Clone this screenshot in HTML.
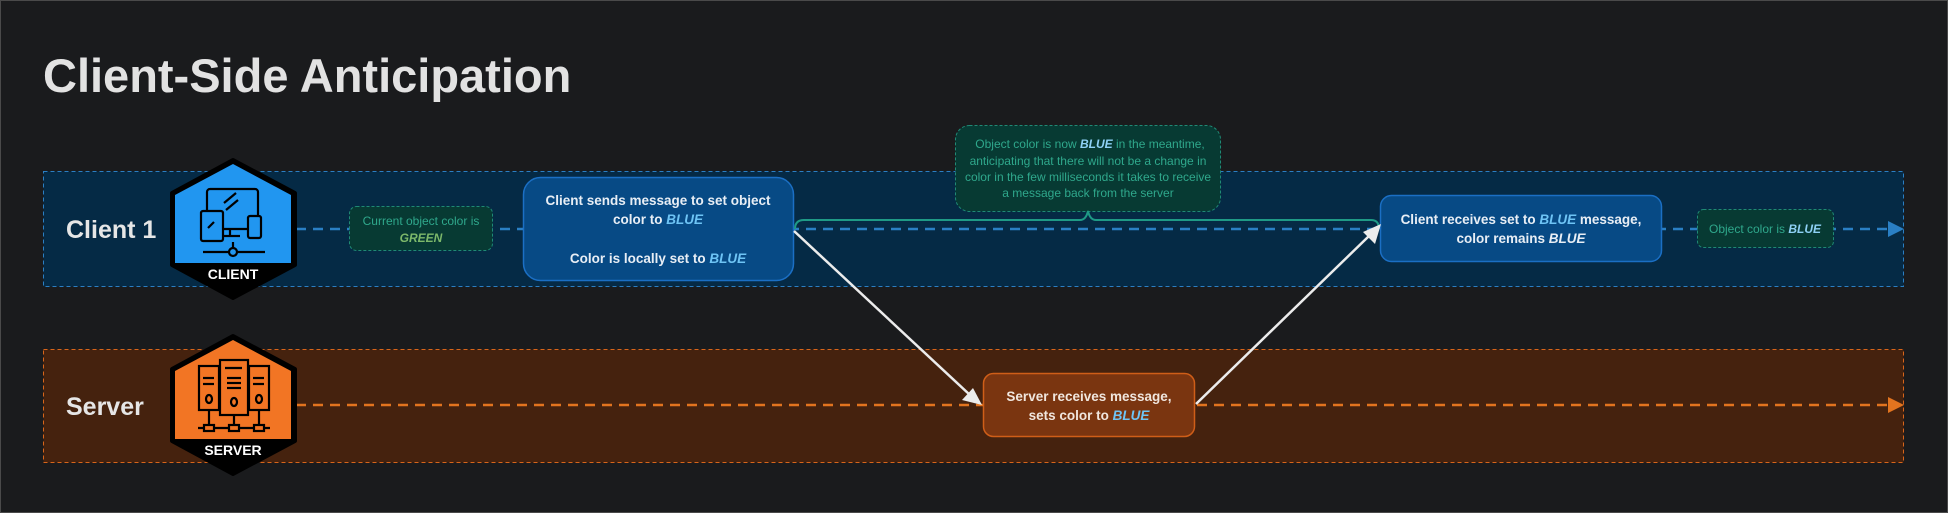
<!DOCTYPE html>
<html><head><meta charset="utf-8"><style>
html,body{margin:0;padding:0;background:#1a1b1d;}
svg{display:block;}
text{font-family:"Liberation Sans",sans-serif;}
</style></head><body>
<svg width="1948" height="513" viewBox="0 0 1948 513" xmlns="http://www.w3.org/2000/svg">
<rect x="0.5" y="0.5" width="1947" height="512" fill="#1a1b1d" stroke="#4a4a4a"/>
<text x="43" y="92" font-size="47" font-weight="bold" fill="#e2e2e2">Client-Side Anticipation</text>

<!-- lanes -->
<rect x="43.5" y="171.5" width="1860" height="115" fill="#052a45" stroke="#2a7fc4" stroke-dasharray="4,3"/>
<rect x="43.5" y="349.5" width="1860" height="113" fill="#45220e" stroke="#d8651a" stroke-dasharray="4,3"/>
<text x="66" y="238" font-size="25" font-weight="bold" fill="#e6e6e6">Client 1</text>
<text x="66" y="415" font-size="25" font-weight="bold" fill="#e6e6e6">Server</text>

<!-- timelines -->
<line x1="296" y1="229" x2="1890" y2="229" stroke="#2a7fc4" stroke-width="2.5" stroke-dasharray="10,7"/>
<polygon points="1888,221 1904,229 1888,237" fill="#2a7fc4"/>
<line x1="296" y1="405" x2="1890" y2="405" stroke="#e2741f" stroke-width="2.5" stroke-dasharray="10,7"/>
<polygon points="1888,397 1904,405 1888,413" fill="#e2741f"/>

<!-- client hex -->
<g>
<polygon points="233,160 295,193 295,265 233,298 172,265 172,193" fill="#000" stroke="#000" stroke-width="4" stroke-linejoin="round"/>
<polygon points="233,164 291,195 291,263 175,263 175,195" fill="#2196f0"/>
<g fill="none" stroke="#000" stroke-width="2.2">
<rect x="207" y="189" width="51" height="40" rx="3"/>
<rect x="201" y="211" width="22" height="30" rx="2" fill="#2196f0"/>
<rect x="248" y="216" width="13" height="22" rx="2" fill="#2196f0"/>
<line x1="230" y1="229" x2="230" y2="236"/><line x1="224" y1="236" x2="240" y2="236"/>
<line x1="203" y1="252" x2="265" y2="252"/><line x1="233" y1="242" x2="233" y2="248"/>
<circle cx="233" cy="252" r="4" fill="#2196f0"/>
<line x1="224" y1="203" x2="236" y2="193"/><line x1="226" y1="210" x2="238" y2="200"/>
<line x1="208" y1="228" x2="214" y2="222"/>
</g>
<text x="233" y="279" font-size="14" font-weight="bold" fill="#fff" text-anchor="middle">CLIENT</text>
</g>

<!-- server hex -->
<g>
<polygon points="233,336 295,369 295,441 233,474 172,441 172,369" fill="#000" stroke="#000" stroke-width="4" stroke-linejoin="round"/>
<polygon points="233,340 291,371 291,439 175,439 175,371" fill="#f27524"/>
<g fill="#f27524" stroke="#000" stroke-width="2.2">
<rect x="199" y="366" width="20" height="44"/>
<rect x="249" y="366" width="20" height="44"/>
<rect x="220" y="360" width="28" height="55"/>
<line x1="209" y1="410" x2="209" y2="428" fill="none"/><line x1="234" y1="415" x2="234" y2="428" fill="none"/><line x1="259" y1="410" x2="259" y2="428" fill="none"/>
<line x1="198" y1="428" x2="270" y2="428" fill="none"/>
<rect x="204" y="425" width="10" height="6"/><rect x="229" y="425" width="10" height="6"/><rect x="254" y="425" width="10" height="6"/>
<line x1="225" y1="368" x2="242" y2="368"/><line x1="227" y1="378" x2="241" y2="378"/><line x1="227" y1="383" x2="241" y2="383"/><line x1="227" y1="388" x2="241" y2="388"/>
<line x1="203" y1="378" x2="214" y2="378"/><line x1="203" y1="384" x2="214" y2="384"/>
<line x1="253" y1="378" x2="264" y2="378"/><line x1="253" y1="384" x2="264" y2="384"/>
<ellipse cx="209" cy="399" rx="3" ry="4"/><ellipse cx="259" cy="399" rx="3" ry="4"/><ellipse cx="234" cy="402" rx="3" ry="4"/>
</g>
<text x="233" y="455" font-size="14" font-weight="bold" fill="#fff" text-anchor="middle">SERVER</text>
</g>

<!-- note green -->
<rect x="349.5" y="206.5" width="143" height="44" rx="7" fill="#073a33" stroke="#1f8a75" stroke-dasharray="3,2"/>
<text x="421" y="225" font-size="12" fill="#2fa88c" text-anchor="middle">Current object color is</text>
<text x="421" y="242" font-size="12" font-weight="bold" font-style="italic" fill="#7cb86a" text-anchor="middle">GREEN</text>

<!-- client sends -->
<rect x="523.5" y="177.5" width="270" height="103" rx="17" fill="#074a85" stroke="#1b6fc4" stroke-width="1.5"/>
<text x="658" y="205" font-size="13.5" font-weight="bold" fill="#e8eef5" text-anchor="middle">Client sends message to set object</text>
<text x="658" y="224" font-size="13.5" font-weight="bold" fill="#e8eef5" text-anchor="middle">color to <tspan fill="#6ec4f5" font-style="italic">BLUE</tspan></text>
<text x="658" y="263" font-size="13.5" font-weight="bold" fill="#e8eef5" text-anchor="middle">Color is locally set to <tspan fill="#6ec4f5" font-style="italic">BLUE</tspan></text>

<!-- top note -->
<rect x="955.5" y="125.5" width="265" height="86" rx="14" fill="#073a33" stroke="#1f8a75" stroke-dasharray="3,2"/>
<g font-size="12" fill="#2fa88c" text-anchor="middle">
<text x="1090" y="148">Object color is now <tspan font-weight="bold" font-style="italic" fill="#8ed0f5">BLUE</tspan> in the meantime,</text>
<text x="1088" y="165">anticipating that there will not be a change in</text>
<text x="1088" y="181">color in the few milliseconds it takes to receive</text>
<text x="1088" y="197">a message back from the server</text>
</g>
<!-- brace -->
<path d="M795,229 Q795,220 804,220 L1080,220 Q1086,220 1088,211 Q1090,220 1096,220 L1371,220 Q1379,220 1379,229" fill="none" stroke="#1f9a86" stroke-width="2"/>

<!-- client receives -->
<rect x="1380.5" y="195.5" width="281" height="66" rx="11" fill="#074a85" stroke="#1b6fc4" stroke-width="1.5"/>
<text x="1521" y="224" font-size="13.5" font-weight="bold" fill="#e8eef5" text-anchor="middle">Client receives set to <tspan fill="#6ec4f5" font-style="italic">BLUE</tspan> message,</text>
<text x="1521" y="243" font-size="13.5" font-weight="bold" fill="#e8eef5" text-anchor="middle">color remains <tspan font-style="italic">BLUE</tspan></text>

<!-- final note -->
<rect x="1697.5" y="209.5" width="136" height="38" rx="6" fill="#073a33" stroke="#1f8a75" stroke-dasharray="3,2"/>
<text x="1765" y="233" font-size="12" fill="#2fa88c" text-anchor="middle">Object color is <tspan font-weight="bold" font-style="italic" fill="#8ed0f5">BLUE</tspan></text>

<!-- server box -->
<rect x="983.5" y="373.5" width="211" height="63" rx="10" fill="#7a3510" stroke="#cf5e18" stroke-width="1.5"/>
<text x="1089" y="401" font-size="13.5" font-weight="bold" fill="#f0e6de" text-anchor="middle">Server receives message,</text>
<text x="1089" y="420" font-size="13.5" font-weight="bold" fill="#f0e6de" text-anchor="middle">sets color to <tspan fill="#6ec4f5" font-style="italic">BLUE</tspan></text>

<!-- arrows -->
<line x1="794" y1="231" x2="970" y2="395" stroke="#ececec" stroke-width="2.5"/>
<polygon points="982,405 962,400 973,388" fill="#ececec"/>
<line x1="1196" y1="404" x2="1369" y2="236" stroke="#ececec" stroke-width="2.5"/>
<polygon points="1381,224 1375,244 1363,232" fill="#ececec"/>
</svg>
</body></html>
